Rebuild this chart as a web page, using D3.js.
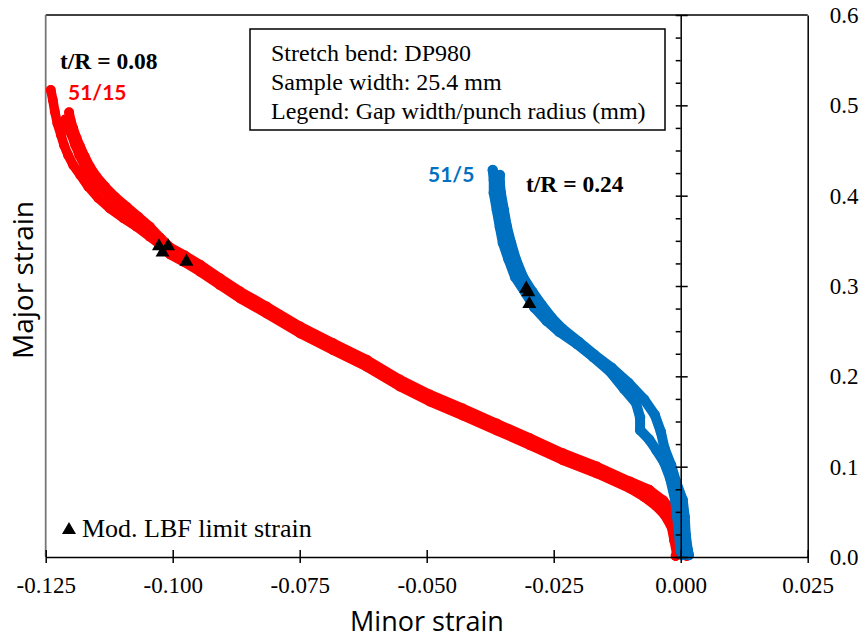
<!DOCTYPE html>
<html><head><meta charset="utf-8">
<script src="https://cdn.jsdelivr.net/npm/d3@7"></script>
<style>body{margin:0;background:#fff}</style>
</head><body>
<svg id="c" width="863" height="640"></svg>
<script>
// ---------- data ----------
const xTickValues = [-0.125, -0.1, -0.075, -0.05, -0.025, 0, 0.025];
const xTickLabels = ["-0.125", "-0.100", "-0.075", "-0.050", "-0.025", "0.000", "0.025"];
const yTickValues = [0, 0.1, 0.2, 0.3, 0.4, 0.5, 0.6];
const yTickLabels = ["0.0", "0.1", "0.2", "0.3", "0.4", "0.5", "0.6"];
const yMinorTickValues = [0.025,0.05,0.075,0.125,0.15,0.175,0.225,0.25,0.275,0.325,0.35,0.375,0.425,0.45,0.475,0.525,0.55,0.575];

// 51/15 (red) measured strain paths [minor, major]
const red51_15_a = [[-0.1240,0.5170],[-0.1236,0.5060],[-0.1232,0.4930],[-0.1227,0.4801],[-0.1220,0.4672],[-0.1214,0.4561],[-0.1206,0.4450],[-0.1196,0.4340],[-0.1182,0.4229],[-0.1166,0.4099],[-0.1146,0.3971],[-0.1124,0.3860],[-0.1097,0.3750],[-0.1071,0.3657],[-0.1045,0.3546],[-0.1025,0.3459],[-0.1005,0.3349],[-0.0976,0.3260],[-0.0946,0.3157],[-0.0907,0.3009],[-0.0867,0.2861],[-0.0815,0.2695],[-0.0749,0.2474],[-0.0684,0.2289],[-0.0618,0.2105],[-0.0553,0.1887],[-0.0494,0.1721],[-0.0429,0.1566],[-0.0362,0.1400],[-0.0297,0.1237],[-0.0232,0.1071],[-0.0165,0.0924],[-0.0100,0.0758],[-0.0072,0.0665],[-0.0048,0.0563],[-0.0032,0.0468],[-0.0018,0.0330],[-0.0013,0.0186],[-0.0008,0.0040],[-0.0010,0.0010]];
const red51_15_b = [[-0.1204,0.4923],[-0.1201,0.4838],[-0.1196,0.4746],[-0.1189,0.4635],[-0.1182,0.4542],[-0.1173,0.4432],[-0.1163,0.4321],[-0.1150,0.4210],[-0.1133,0.4099],[-0.1114,0.3989],[-0.1091,0.3878],[-0.1068,0.3767],[-0.1045,0.3657],[-0.1025,0.3537],[-0.1005,0.3427],[-0.0976,0.3338],[-0.0946,0.3235],[-0.0907,0.3087],[-0.0867,0.2939],[-0.0815,0.2773],[-0.0749,0.2552],[-0.0684,0.2367],[-0.0618,0.2183],[-0.0553,0.1965],[-0.0494,0.1799],[-0.0429,0.1644],[-0.0362,0.1478],[-0.0297,0.1315],[-0.0232,0.1149],[-0.0165,0.1002],[-0.0100,0.0836],[-0.0062,0.0745],[-0.0034,0.0625],[-0.0016,0.0500],[-0.0002,0.0340],[0.0003,0.0190],[0.0008,0.0045],[0.0012,0.0010]];
const red51_15_c = [[-0.1212,0.4849],[-0.1209,0.4760],[-0.1200,0.4672],[-0.1193,0.4561],[-0.1185,0.4450],[-0.1175,0.4340],[-0.1161,0.4218],[-0.1146,0.4107],[-0.1126,0.3996],[-0.1103,0.3886],[-0.1082,0.3775],[-0.1057,0.3664],[-0.1034,0.3565],[-0.1005,0.3400]];

// 51/5 (blue) measured strain paths
const blue51_5_a = [[-0.0370,0.4284],[-0.0368,0.4174],[-0.0368,0.4030],[-0.0362,0.3841],[-0.0356,0.3653],[-0.0350,0.3476],[-0.0339,0.3295],[-0.0326,0.3100],[-0.0305,0.2920],[-0.0288,0.2760],[-0.0264,0.2615],[-0.0239,0.2492],[-0.0204,0.2358],[-0.0172,0.2213],[-0.0140,0.2058],[-0.0112,0.1864],[-0.0088,0.1705],[-0.0080,0.1545],[-0.0080,0.1406],[-0.0062,0.1300],[-0.0048,0.1185],[-0.0033,0.1052],[-0.0021,0.0875],[-0.0011,0.0631],[-0.0007,0.0443],[-0.0003,0.0244],[-0.0001,0.0077],[0.0003,0.0022]];
const blue51_5_b = [[-0.0356,0.4229],[-0.0356,0.4140],[-0.0354,0.4030],[-0.0348,0.3841],[-0.0342,0.3653],[-0.0334,0.3476],[-0.0324,0.3288],[-0.0310,0.3095],[-0.0292,0.2938],[-0.0274,0.2794],[-0.0254,0.2650],[-0.0233,0.2528],[-0.0201,0.2384],[-0.0170,0.2240],[-0.0136,0.2096],[-0.0103,0.1930],[-0.0072,0.1745],[-0.0051,0.1573],[-0.0039,0.1384],[-0.0032,0.1207],[-0.0019,0.1018],[-0.0009,0.0830],[0.0004,0.0631],[0.0008,0.0443],[0.0010,0.0244],[0.0014,0.0077],[0.0016,0.0022]];

// Mod. LBF limit strains
const limitRed = [[-0.1027,0.344],[-0.1009,0.344],[-0.1020,0.337],[-0.0973,0.327]];
const limitBlue = [[-0.0304,0.297],[-0.0300,0.293],[-0.0298,0.280]];

// ---------- drawing ----------
const RED = "#FF0000", BLUE = "#0070C0";
const SERIF = "'Liberation Serif','Times New Roman',serif";
const SANS = "'Open Sans',Lato,sans-serif";
const svg = d3.select("#c");
svg.append("rect").attr("width",863).attr("height",640).attr("fill","#fff");

const x = d3.scaleLinear().domain([-0.125, 0.025]).range([45.7, 807.7]);
const y = d3.scaleLinear().domain([0, 0.6]).range([557, 15]);

// frame (top + left)
svg.append("line").attr("x1",x(-0.125)).attr("x2",x(0.025)).attr("y1",y(0.6)).attr("y2",y(0.6))
  .attr("stroke","#000").attr("stroke-width",1.5);
svg.append("line").attr("x1",x(-0.125)).attr("x2",x(-0.125)).attr("y1",y(0.6)).attr("y2",y(0))
  .attr("stroke","#777").attr("stroke-width",1.8);

// data marks
const line = d3.line().x(d=>x(d[0])).y(d=>y(d[1]));
function track(data, color, w){
  svg.append("path").datum(data).attr("d",line).attr("fill","none").attr("stroke",color)
    .attr("stroke-width",w).attr("stroke-linecap","round").attr("stroke-linejoin","round");
  svg.append("g").selectAll("circle").data(data).join("circle")
    .attr("cx",d=>x(d[0])).attr("cy",d=>y(d[1])).attr("r",w/2+0.2).attr("fill",color);
}
track(red51_15_a, RED, 9.5); track(red51_15_c, RED, 8.5); track(red51_15_b, RED, 9.5);
track(blue51_5_a, BLUE, 10); track(blue51_5_b, BLUE, 10);

const tri = d3.symbol(d3.symbolTriangle, 85);
svg.append("g").selectAll("path").data(limitRed.concat(limitBlue)).join("path")
  .attr("d",tri).attr("transform",d=>`translate(${x(d[0])},${y(d[1])})`).attr("fill","#000");

// x axis
const gx = svg.append("g").attr("transform",`translate(0,${y(0)})`)
  .call(d3.axisBottom(x).tickValues(xTickValues).tickFormat((d,i)=>xTickLabels[i]).tickSizeOuter(0));
gx.select(".domain").attr("stroke-width",1.5);
gx.selectAll(".tick line").attr("y1",-7).attr("y2",6).attr("stroke-width",1.5);
gx.selectAll(".tick text").attr("y",20).attr("font-family",SERIF).attr("font-size",23).attr("fill","#000");

// y axis at minor strain = 0
const gy = svg.append("g").attr("transform",`translate(${x(0)},0)`)
  .call(d3.axisLeft(y).tickValues(yTickValues).tickFormat("").tickSize(5).tickSizeOuter(0));
gy.select(".domain").attr("stroke-width",1.5);
gy.selectAll(".tick line").attr("x1",7).attr("stroke-width",1.5);
const gym = svg.append("g").attr("transform",`translate(${x(0)},0)`)
  .call(d3.axisLeft(y).tickValues(yMinorTickValues).tickFormat("").tickSize(5).tickSizeOuter(0));
gym.select(".domain").remove();
gym.selectAll(".tick line").attr("stroke-width",1.5);

// right axis: frame line + labels
const gr = svg.append("g").attr("transform",`translate(${x(0.025)},0)`)
  .call(d3.axisRight(y).tickValues(yTickValues).tickFormat((d,i)=>yTickLabels[i]).tickSize(0).tickPadding(22).tickSizeOuter(0));
gr.select(".domain").attr("stroke-width",1.5);
gr.selectAll(".tick text").attr("font-family",SERIF).attr("font-size",23).attr("fill","#000");

// axis titles
svg.append("text").attr("x",427).attr("y",631).attr("text-anchor","middle")
  .attr("font-family",SANS).attr("font-size",27).text("Minor strain");
svg.append("text").attr("transform","translate(33,280) rotate(-90)").attr("text-anchor","middle")
  .attr("font-family",SANS).attr("font-size",28).text("Major strain");

// info box
svg.append("rect").attr("x",250).attr("y",29).attr("width",415).attr("height",101)
  .attr("fill","#fff").attr("stroke","#000").attr("stroke-width",1.5);
const info = ["Stretch bend: DP980","Sample width: 25.4 mm","Legend: Gap width/punch radius (mm)"];
info.forEach((t,i)=>svg.append("text").attr("x",271).attr("y",61+29*i)
  .attr("font-family",SERIF).attr("font-size",24).text(t));

// annotations
svg.append("text").attr("x",60).attr("y",69).attr("font-family",SERIF).attr("font-weight","bold")
  .attr("font-size",23.5).text("t/R = 0.08");
svg.append("text").attr("x",68).attr("y",100).attr("font-family","Lato,sans-serif").attr("font-weight","bold")
  .attr("font-size",21).attr("fill",RED).text("51/15");
svg.append("text").attr("x",428).attr("y",182).attr("font-family","Lato,sans-serif").attr("font-weight","bold")
  .attr("font-size",21).attr("fill",BLUE).text("51/5");
svg.append("text").attr("x",526).attr("y",192).attr("font-family",SERIF).attr("font-weight","bold")
  .attr("font-size",23.5).text("t/R = 0.24");

// legend
svg.append("path").attr("d",tri).attr("transform","translate(69,530)").attr("fill","#000");
svg.append("text").attr("x",82).attr("y",537).attr("font-family",SERIF).attr("font-size",26)
  .text("Mod. LBF limit strain");
</script>
</body></html>
